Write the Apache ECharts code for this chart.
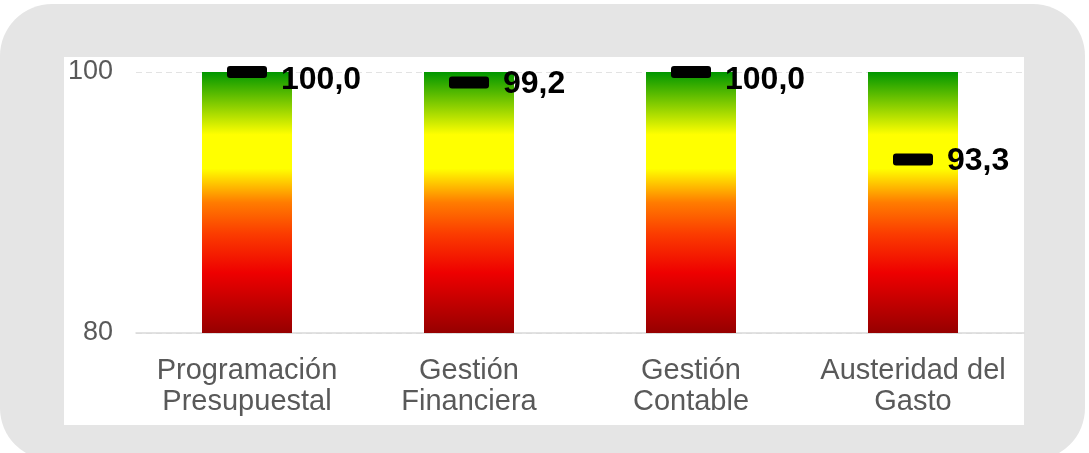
<!DOCTYPE html>
<html>
<head>
<meta charset="utf-8">
<script src="https://cdn.jsdelivr.net/npm/echarts@6/dist/echarts.min.js"></script>
<style>
html,body{margin:0;padding:0;background:#ffffff;}
#chart{width:1089px;height:453px;}
</style>
</head>
<body>
<div id="chart"></div>
<script>
const categories = ['Programación\nPresupuestal', 'Gestión\nFinanciera', 'Gestión\nContable', 'Austeridad del\nGasto'];
const scaleTop = [100, 100, 100, 100];
const scores = [100.0, 99.2, 100.0, 93.3];
const yMin = 80, yMax = 100, yStep = 20;

const chart = echarts.init(document.getElementById('chart'), null, {renderer: 'canvas'});
const FONT = '"Liberation Sans", Arial, sans-serif';

const barGradient = new echarts.graphic.LinearGradient(0, 0, 0, 1, [
  {offset: 0, color: '#009600'},
  {offset: 0.24, color: '#ffff00'},
  {offset: 0.37, color: '#ffff00'},
  {offset: 0.5, color: '#ff7c00'},
  {offset: 0.62, color: '#fb3c00'},
  {offset: 0.77, color: '#ee0000'},
  {offset: 1, color: '#960000'}
]);

const markerPath = 'path://M3,0 H37 A3,3 0 0 1 40,3 V9 A3,3 0 0 1 37,12 H3 A3,3 0 0 1 0,9 V3 A3,3 0 0 1 3,0 Z';

chart.setOption({
  animation: false,
  textStyle: {fontFamily: FONT},
  graphic: [
    {type: 'rect', z: -10, silent: true, shape: {x: 0, y: 4, width: 1085, height: 456, r: 52}, style: {fill: '#e5e5e5'}},
    {type: 'rect', z: -9, silent: true, shape: {x: 64, y: 57, width: 960, height: 368}, style: {fill: '#ffffff'}}
  ],
  grid: {left: 136, right: 65, top: 72, bottom: 120, containLabel: false},
  xAxis: {
    type: 'category',
    data: categories,
    axisLine: {show: true, lineStyle: {color: '#d9d9d9', width: 1.5}},
    axisTick: {show: false},
    axisLabel: {color: '#595959', fontSize: 29, lineHeight: 31, margin: 22, fontFamily: FONT, interval: 0}
  },
  yAxis: {
    type: 'value',
    min: yMin, max: yMax, interval: yStep,
    axisLine: {show: false},
    axisTick: {show: false},
    axisLabel: {color: '#595959', fontSize: 27, margin: 23, fontFamily: FONT},
    splitLine: {show: true, lineStyle: {color: '#e3e3e3', type: [6, 4], width: 1}}
  },
  series: [
    {
      type: 'bar',
      data: scaleTop,
      barWidth: 90,
      itemStyle: {color: barGradient},
      z: 2
    },
    {
      type: 'scatter',
      data: scores.map(v => ({value: v, label: {offset: [0, v >= 100 ? 8 : 2]}})),
      symbol: markerPath,
      symbolSize: [40, 12],
      symbolKeepAspect: false,
      itemStyle: {color: '#000000', opacity: 1},
      z: 5,
      label: {
        show: true,
        position: 'right',
        distance: 14,
        formatter: p => p.value.toFixed(1).replace('.', ','),
        color: '#000000',
        fontSize: 32,
        fontWeight: 'bold',
        fontFamily: FONT
      }
    }
  ]
});
</script>
</body>
</html>
